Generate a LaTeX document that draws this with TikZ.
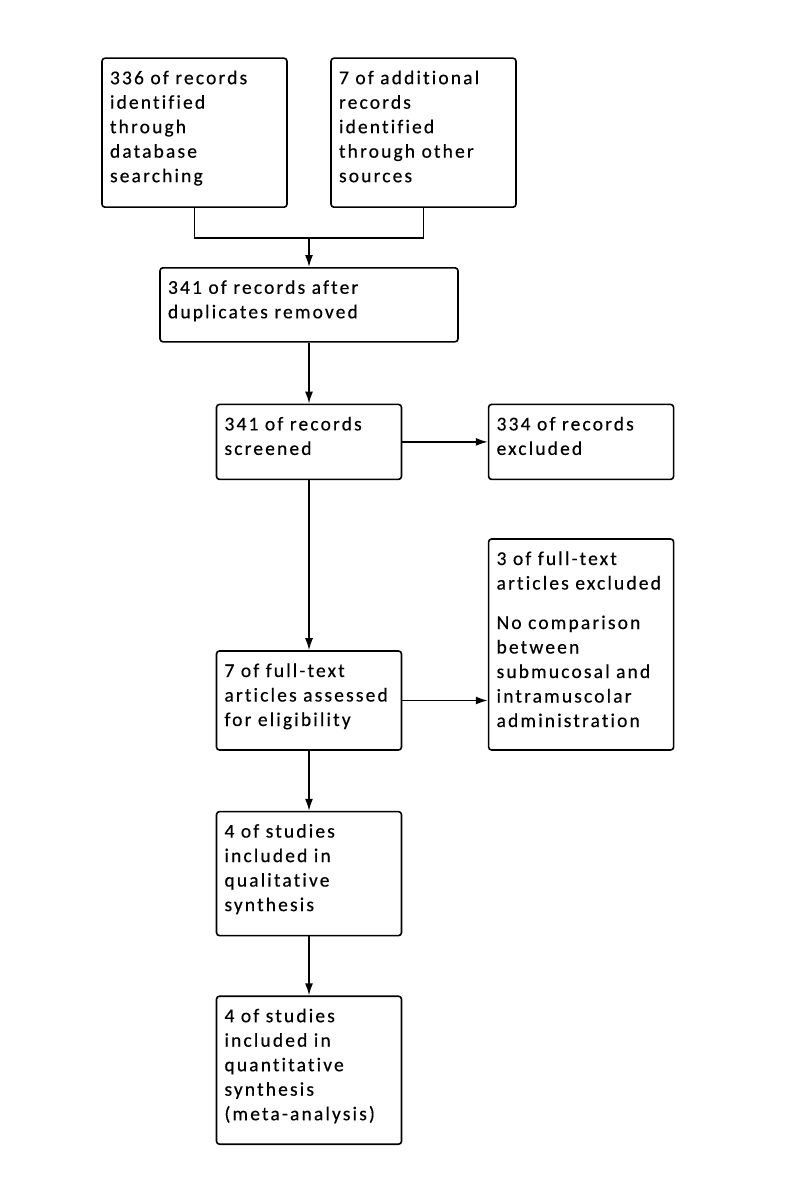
\documentclass[tikz,border=0pt]{standalone}
\usepackage{fontspec}
\newfontfamily\boxfont{Carlito}[LetterSpace=11, Ligatures=NoCommon, FakeBold=0.4]
\usepackage{tikz}
\usetikzlibrary{arrows.meta, positioning}
\tikzset{box/.style = {
  % Rectangle:
  rectangle,
  draw=black, line width=1.6pt,
  rounded corners=3pt,
  inner xsep=8pt, inner ysep=8pt,
  % Text:
  font=\boxfont\fontsize{19.5}{24.5}\selectfont,
  align=left, text width=169pt,
  text height=18pt, text depth=#1
  }}
\tikzset{arrow/.style = {
  -{Latex[length=12pt, width=8pt]},
  line width=1.6pt,
  draw=black
  }}
\tikzset{link/.style = {
  line width=1.6pt,
  draw=black
  }}

\begin{document}
\begin{tikzpicture}[x=1pt, y=1pt]
  \path[fill=white] (0,0) rectangle (799,-1190);
  \useasboundingbox (0,0) rectangle (799,-1190);
  %
  % Specification of nodes
  %
  \node (dup) [box=40pt, text width=282pt, anchor=north] at (309,-267)
    {341 of records after\\duplicates removed};
  \node (database) [box=115pt, above=59pt of dup.north west, anchor=south west, xshift=-58pt]
    {336 of records\\identified\\through\\database\\searching};
  \node (other) [box=115pt, above=59pt of dup.north east, anchor=south east, xshift=58pt]
    {7 of additional\\records\\identified\\through other\\sources};

  \node (screened) [box=41pt, below=61pt of dup] {341 of records\\screened};
  \node (excluded) [box=41pt, right=85.5pt of screened] {334 of records\\excluded};

  \node (fulltext) [box=65pt, below=170pt of screened]
    {7 of full-text\\articles assessed\\for eligibility};
  \node (ftexcluded) [box=177pt, right=85.5pt of fulltext.south east, anchor=south west]
    {3 of full-text\\articles excluded\\[15pt]No comparison\\between\\submucosal and\\intramuscolar\\administration};

  \node (qualitative) [box=90pt, below=60pt of fulltext]
    {4 of studies\\included in\\qualitative\\synthesis};
  \node (quantitative) [box=114pt, below=59pt of qualitative]
    {4 of studies\\included in\\quantitative\\synthesis\\(meta-analysis)};

  \coordinate [above=29pt of dup] (join);
  %
  % Specification of lines
  %
  \draw [link] (database.south) |- (join) -| (other.south);
  \draw [arrow] (join) -- (dup.north);
  \draw [arrow] (dup.south) -- (screened.north);
  \draw [arrow] (screened.east) -- (excluded.west);
  \draw [arrow] (screened.south) -- (fulltext.north);
  \draw [arrow] (fulltext.east) -- (fulltext.east -| ftexcluded.west);
  \draw [arrow] (fulltext.south) -- (qualitative.north);
  \draw [arrow] (qualitative.south) -- (quantitative.north);
\end{tikzpicture}
\end{document}
